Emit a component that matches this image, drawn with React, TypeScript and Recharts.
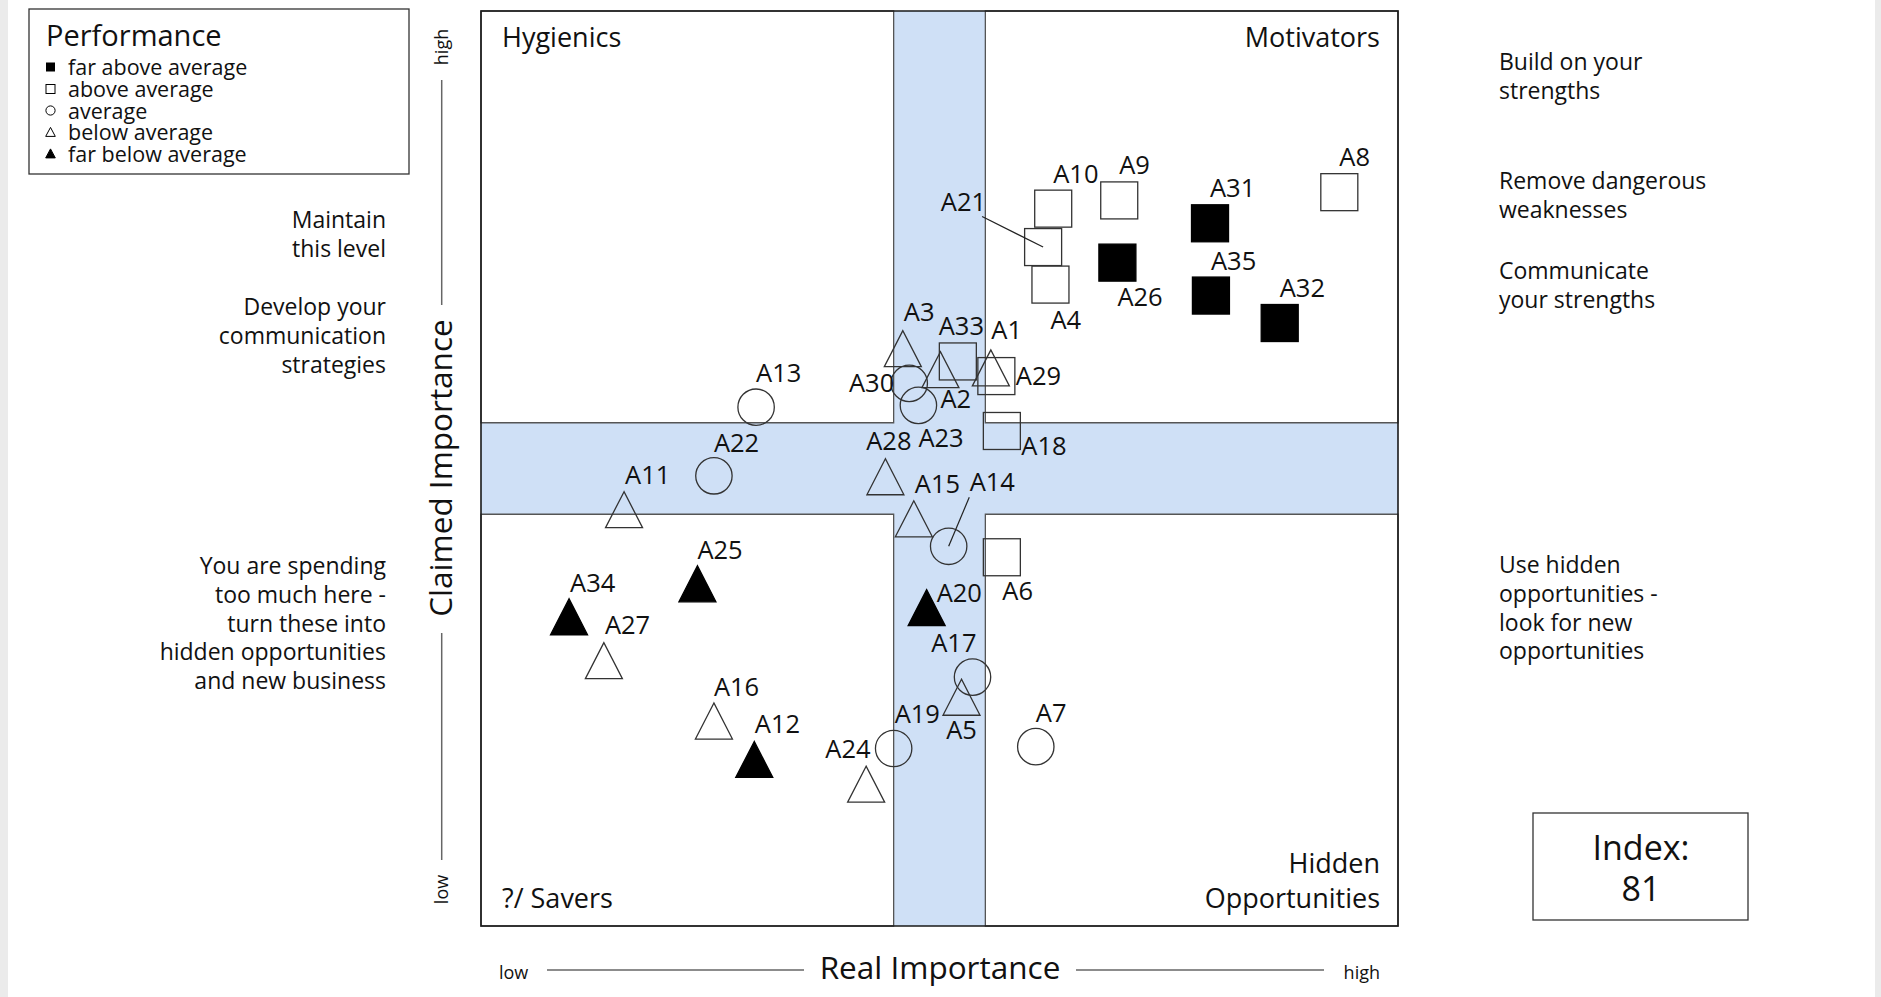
import React from "react";
import { ScatterChart, Scatter, XAxis, YAxis, ReferenceArea } from "recharts";

const W = 1881;
const H = 997;
const FONT = "'Open Sans', 'DejaVu Sans', sans-serif";
const INK = "#111";

// performance groups (x = real importance, y = claimed importance, 0..100)
const FAR_ABOVE = [
  { name: "A31", x: 79.5, y: 76.8 },
  { name: "A26", x: 69.4, y: 72.5 },
  { name: "A35", x: 79.6, y: 68.9 },
  { name: "A32", x: 87.1, y: 65.9 },
];

const ABOVE = [
  { name: "A10", x: 62.4, y: 78.4 },
  { name: "A9", x: 69.6, y: 79.3 },
  { name: "A8", x: 93.6, y: 80.2 },
  { name: "A21", x: 61.3, y: 74.2 },
  { name: "A4", x: 62.1, y: 70.1 },
  { name: "A33", x: 52.0, y: 61.7 },
  { name: "A29", x: 56.2, y: 60.1 },
  { name: "A18", x: 56.8, y: 54.1 },
  { name: "A6", x: 56.8, y: 40.3 },
];

const AVERAGE = [
  { name: "A13", x: 30.0, y: 56.7 },
  { name: "A30", x: 46.7, y: 59.3 },
  { name: "A23", x: 47.7, y: 56.9 },
  { name: "A22", x: 25.4, y: 49.2 },
  { name: "A14", x: 51.0, y: 41.5 },
  { name: "A17", x: 53.6, y: 27.2 },
  { name: "A19", x: 45.0, y: 19.4 },
  { name: "A7", x: 60.5, y: 19.6 },
];

const BELOW = [
  { name: "A3", x: 46.0, y: 63.1 },
  { name: "A2", x: 50.1, y: 60.8 },
  { name: "A1", x: 55.6, y: 61.0 },
  { name: "A28", x: 44.1, y: 49.1 },
  { name: "A11", x: 15.6, y: 45.5 },
  { name: "A15", x: 47.2, y: 44.5 },
  { name: "A27", x: 13.4, y: 29.0 },
  { name: "A16", x: 25.4, y: 22.4 },
  { name: "A5", x: 52.4, y: 25.0 },
  { name: "A24", x: 42.0, y: 15.5 },
];

const FAR_BELOW = [
  { name: "A25", x: 23.6, y: 37.4 },
  { name: "A34", x: 9.6, y: 33.8 },
  { name: "A20", x: 48.6, y: 34.8 },
  { name: "A12", x: 29.8, y: 18.2 },
];

// middle band on both axes
const BAND_LOW = 45;
const BAND_HIGH = 55;

const LEGEND_TITLE = "Performance";
const LEGEND_ITEMS = ["far above average", "above average", "average", "below average", "far below average"];

const QUADRANTS = { topLeft: ["Hygienics"], topRight: ["Motivators"], bottomLeft: ["?/ Savers"], bottomRight: ["Hidden", "Opportunities"] };

const LEFT_NOTES = [
  { lines: ["Maintain", "this level"], y: 228.3 },
  { lines: ["Develop your", "communication", "strategies"], y: 315 },
  { lines: ["You are spending", "too much here -", "turn these into", "hidden opportunities", "and new business"], y: 574 },
];

const RIGHT_NOTES = [
  { lines: ["Build on your", "strengths"], y: 70 },
  { lines: ["Remove dangerous", "weaknesses"], y: 189 },
  { lines: ["Communicate", "your strengths"], y: 279 },
  { lines: ["Use hidden", "opportunities -", "look for new", "opportunities"], y: 573 },
];

const INDEX_LABEL = "Index:";
const INDEX_VALUE = "81";

// label placement around each marker: [dx, dy (baseline), anchor]
const LABEL_LAYOUT: Record<string, [number, number, string?]> = {
  A26: [0, 43], A4: [0, 44], A21: [-57, -36, "end"], A33: [3.5, -26.5, "middle"],
  A3: [1, -27.5], A1: [0.5, -29], A29: [19.5, 9], A30: [-15, 9, "end"], A2: [0, 38.5],
  A23: [0, 41.5], A18: [19.5, 24.5], A13: [0, -25], A22: [0, -24], A28: [3.5, -26.5, "middle"],
  A11: [1, -25.5], A15: [1, -26], A14: [21, -55], A6: [0.5, 43], A20: [10, -5.5],
  A17: [4, -25, "end"], A5: [0, 42, "middle"], A7: [0, -25], A19: [1, -25],
  A24: [4.5, -26, "end"], A25: [0, -25], A34: [1, -24.5], A27: [1, -26.5], A16: [0, -25.5],
  A12: [0.5, -26.5],
};
const LEADERS: Record<string, [number, number]> = { A21: [-61, -30.6], A14: [20.6, -49] };

const S = 37;

function makeShape(kind: string, filled: boolean) {
  return (props: any) => {
    const { cx, cy, payload } = props;
    const fill = filled ? "#000" : "none";
    const stroke = filled ? "#000" : "#333";
    let mark;
    if (kind === "square") {
      mark = <rect x={cx - S / 2} y={cy - S / 2} width={S} height={S} fill={fill} stroke={stroke} strokeWidth={1.3} />;
    } else if (kind === "circle") {
      mark = <circle cx={cx} cy={cy} r={18.2} fill={fill} stroke={stroke} strokeWidth={1.3} />;
    } else {
      const pts = `${cx},${cy - 18} ${cx - 18.5},${cy + 18} ${cx + 18.5},${cy + 18}`;
      mark = <polygon points={pts} fill={fill} stroke={stroke} strokeWidth={1.3} />;
    }
    const [dx, dy, anchor] = LABEL_LAYOUT[payload.name] || [0, -26, "start"];
    const lead = LEADERS[payload.name];
    return (
      <g>
        {mark}
        {lead && <line x1={cx + lead[0]} y1={cy + lead[1]} x2={cx} y2={cy} stroke="#222" strokeWidth={1.2} />}
        <text x={cx + dx} y={cy + dy} textAnchor={anchor || "start"} fontFamily={FONT} fontSize={25.5} fill={INK}>
          {payload.name}
        </text>
      </g>
    );
  };
}

function LegendMark({ i, x, y }: { i: number; x: number; y: number }) {
  const s = 9;
  if (i === 0) return <rect x={x - s / 2} y={y - s / 2} width={s} height={s} fill="#000" />;
  if (i === 1) return <rect x={x - s / 2} y={y - s / 2} width={s} height={s} fill="none" stroke="#000" strokeWidth={1} />;
  if (i === 2) return <circle cx={x} cy={y} r={4.6} fill="none" stroke="#000" strokeWidth={1} />;
  const pts = `${x},${y - 4.6} ${x - 4.8},${y + 4.4} ${x + 4.8},${y + 4.4}`;
  return <polygon points={pts} fill={i === 4 ? "#000" : "none"} stroke="#000" strokeWidth={1} />;
}

function Overlay() {
  const legendBase = [75, 97, 118.5, 140, 161.5];
  return (
    <svg width={W} height={H} style={{ position: "absolute", left: 0, top: 0, pointerEvents: "none" }}>
      {/* legend */}
      <rect x={29} y={9} width={380} height={165} fill="none" stroke="#333" strokeWidth={1.3} />
      <text x={46} y={46} fontFamily={FONT} fontSize={29} fill={INK}>{LEGEND_TITLE}</text>
      {LEGEND_ITEMS.map((t, i) => (
        <g key={t}>
          <LegendMark i={i} x={50.5} y={legendBase[i] - 8} />
          <text x={68} y={legendBase[i]} fontFamily={FONT} fontSize={21.5} fill={INK}>{t}</text>
        </g>
      ))}

      {/* y axis title */}
      <text transform="translate(447.5,47) rotate(-90)" textAnchor="middle" fontFamily={FONT} fontSize={18} fill={INK}>high</text>
      <line x1={441.7} x2={441.7} y1={80} y2={305} stroke="#666" strokeWidth={1.5} />
      <text transform="translate(452,468) rotate(-90)" textAnchor="middle" fontFamily={FONT} fontSize={31.5} fill={INK}>Claimed Importance</text>
      <line x1={441.7} x2={441.7} y1={633} y2={860} stroke="#666" strokeWidth={1.5} />
      <text transform="translate(447.5,889.5) rotate(-90)" textAnchor="middle" fontFamily={FONT} fontSize={18} fill={INK}>low</text>

      {/* x axis title */}
      <text x={499} y={979} fontFamily={FONT} fontSize={18} fill={INK}>low</text>
      <line x1={547} x2={804} y1={970} y2={970} stroke="#666" strokeWidth={1.5} />
      <text x={940} y={979} textAnchor="middle" fontFamily={FONT} fontSize={31.5} fill={INK}>Real Importance</text>
      <line x1={1076} x2={1324} y1={970} y2={970} stroke="#666" strokeWidth={1.5} />
      <text x={1380} y={979} textAnchor="end" fontFamily={FONT} fontSize={18} fill={INK}>high</text>

      {/* quadrant names */}
      <text x={502} y={46.5} fontFamily={FONT} fontSize={27} fill={INK}>{QUADRANTS.topLeft[0]}</text>
      <text x={1380} y={46.5} textAnchor="end" fontFamily={FONT} fontSize={27} fill={INK}>{QUADRANTS.topRight[0]}</text>
      <text x={502} y={908} fontFamily={FONT} fontSize={27} fill={INK}>{QUADRANTS.bottomLeft[0]}</text>
      {QUADRANTS.bottomRight.map((t, i) => (
        <text key={t} x={1380} y={873 + i * 35} textAnchor="end" fontFamily={FONT} fontSize={27} fill={INK}>{t}</text>
      ))}

      {/* advice notes */}
      {LEFT_NOTES.map((n) =>
        n.lines.map((t, i) => (
          <text key={t} x={386} y={n.y + i * 28.8} textAnchor="end" fontFamily={FONT} fontSize={23} fill={INK}>{t}</text>
        ))
      )}
      {RIGHT_NOTES.map((n) =>
        n.lines.map((t, i) => (
          <text key={n.y + t} x={1499} y={n.y + i * 28.8} fontFamily={FONT} fontSize={23} fill={INK}>{t}</text>
        ))
      )}

      {/* index box */}
      <rect x={1533} y={813} width={215} height={107} fill="none" stroke="#333" strokeWidth={1.3} />
      <text x={1641} y={860} textAnchor="middle" fontFamily={FONT} fontSize={34} fill={INK}>{INDEX_LABEL}</text>
      <text x={1641} y={901} textAnchor="middle" fontFamily={FONT} fontSize={34} fill={INK}>{INDEX_VALUE}</text>
    </svg>
  );
}

export default function App() {
  const quadStyle = { fill: "#fff", fillOpacity: 1, stroke: "#555", strokeWidth: 1.3 };
  return (
    <div style={{ position: "absolute", left: 0, top: 0, width: W, height: H, background: "#ebebeb", overflow: "hidden" }}>
      <div style={{ position: "absolute", left: 8, top: 0, width: 1867, height: H, background: "#fff" }} />
      <div style={{ position: "absolute", left: 0, top: 0 }}>
        <ScatterChart width={W} height={H} margin={{ top: 11, right: 483, bottom: 71, left: 481 }}>
          <XAxis type="number" dataKey="x" domain={[0, 100]} hide allowDataOverflow />
          <YAxis type="number" dataKey="y" domain={[0, 100]} hide allowDataOverflow />
          <ReferenceArea x1={0} x2={100} y1={0} y2={100} fill="#cfe0f6" fillOpacity={1} stroke="none" />
          <ReferenceArea x1={0} x2={BAND_LOW} y1={BAND_HIGH} y2={100} {...quadStyle} />
          <ReferenceArea x1={BAND_HIGH} x2={100} y1={BAND_HIGH} y2={100} {...quadStyle} />
          <ReferenceArea x1={0} x2={BAND_LOW} y1={0} y2={BAND_LOW} {...quadStyle} />
          <ReferenceArea x1={BAND_HIGH} x2={100} y1={0} y2={BAND_LOW} {...quadStyle} />
          <ReferenceArea x1={0} x2={100} y1={0} y2={100} fill="none" fillOpacity={0} stroke="#1a1a1a" strokeWidth={1.6} />
          <Scatter data={FAR_ABOVE} shape={makeShape("square", true)} isAnimationActive={false} />
          <Scatter data={ABOVE} shape={makeShape("square", false)} isAnimationActive={false} />
          <Scatter data={AVERAGE} shape={makeShape("circle", false)} isAnimationActive={false} />
          <Scatter data={BELOW} shape={makeShape("triangle", false)} isAnimationActive={false} />
          <Scatter data={FAR_BELOW} shape={makeShape("triangle", true)} isAnimationActive={false} />
        </ScatterChart>
      </div>
      <Overlay />
    </div>
  );
}
